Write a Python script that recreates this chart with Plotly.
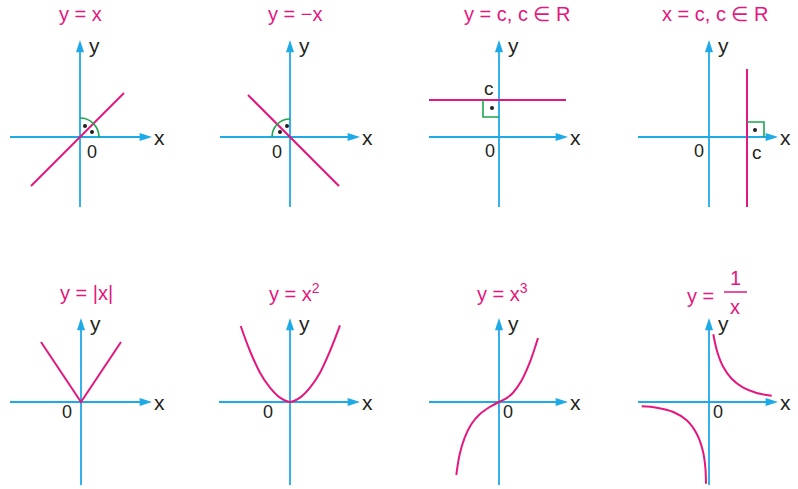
import plotly.graph_objects as go

# ---------------- data (math units; 1 unit = 10 px) ----------------
lin_x = [-4.9, 4.4]
lin_y = [-4.9, 4.4]

neg_x = [-4.2, 4.9]
neg_y = [4.2, -4.9]

const_c = 3.7
const_x = [-7.0, 6.7]

vert_c = 3.8
vert_y = [-7.0, 6.8]

abs_x = [-4.0, 0.0, 4.0]
abs_y = [6.0, 0.0, 6.0]

sq_x = [-4.93, -4.0, -3.0, -2.0, -1.0, 0.0, 1.0, 2.0, 3.0, 4.0, 5.0]
sq_y = [7.6, 5.1, 2.93, 1.43, 0.43, 0.0, 0.43, 1.43, 2.93, 5.1, 7.67]

cube_x = [-4.27, -3.93, -3.43, -2.77, -1.93, -0.93, 0.0, 0.73, 1.4, 2.23, 3.07, 3.9]
cube_y = [-7.3, -5.23, -3.57, -2.23, -1.23, -0.5, 0.0, 0.37, 0.93, 2.1, 3.93, 6.4]

inv_right_x = [0.43, 0.83, 1.43, 2.27, 3.43, 4.77, 6.27]
inv_right_y = [6.77, 5.0, 3.5, 2.33, 1.43, 0.9, 0.63]
inv_left_x = [-6.73, -5.23, -3.57, -2.23, -1.23, -0.63, -0.37, -0.3]
inv_left_y = [-0.43, -0.57, -1.0, -1.83, -3.17, -4.83, -6.5, -8.17]

titles = ["y = x", "y = \u2212x", "y = c, c \u2208 R", "x = c, c \u2208 R",
          "y = |x|", "y = x<sup>2</sup>", "y = x<sup>3</sup>", ""]

# ---------------- styling / layout ----------------
PINK = "#e5177e"
BLUE = "#1eaae7"
GREEN = "#1ea54e"
TXT = "#231f20"
FONT = "Liberation Sans, Arial, sans-serif"
W, H, U = 798, 489, 10.0
TSIZE = 20

# per panel: origin pixel, column box, row box, axis extents, title pos, "0" pos
panels = [
    dict(o=(80, 137), cx=(0, 200), ry=(0, 245), xa=(-7.0, 7.2), ya=(-7.0, 9.7), t=(0.0, 12.3), z=(1.2, -1.5)),
    dict(o=(290, 137), cx=(200, 400), ry=(0, 245), xa=(-7.0, 7.0), ya=(-7.0, 9.7), t=(0.5, 12.3), z=(-1.3, -1.5)),
    dict(o=(499, 137), cx=(400, 600), ry=(0, 245), xa=(-7.0, 6.9), ya=(-7.0, 9.7), t=(1.8, 12.3), z=(-0.9, -1.4)),
    dict(o=(709, 137), cx=(600, 798), ry=(0, 245), xa=(-7.1, 6.9), ya=(-7.0, 9.7), t=(0.6, 12.3), z=(-1.0, -1.4)),
    dict(o=(81, 402), cx=(0, 200), ry=(245, 489), xa=(-7.1, 7.1), ya=(-8.3, 8.4), t=(0.5, 10.9), z=(-1.4, -1.0)),
    dict(o=(290, 402), cx=(200, 400), ry=(245, 489), xa=(-7.1, 7.0), ya=(-8.3, 8.4), t=(0.4, 11.0), z=(-2.2, -1.0)),
    dict(o=(499, 402), cx=(400, 600), ry=(245, 489), xa=(-7.0, 6.9), ya=(-8.3, 8.4), t=(0.3, 11.0), z=(0.9, -1.0)),
    dict(o=(709, 402), cx=(600, 798), ry=(245, 489), xa=(-7.1, 6.9), ya=(-8.3, 8.4), t=(0.0, 10.9), z=(0.9, -1.0)),
]

fig = go.Figure()
layout = dict(width=W, height=H, margin=dict(l=0, r=0, t=0, b=0),
              paper_bgcolor="white", plot_bgcolor="rgba(0,0,0,0)", showlegend=False)
annotations = []
shapes = []


def refs(i):
    return ("x" if i == 0 else f"x{i+1}"), ("y" if i == 0 else f"y{i+1}")


for i, p in enumerate(panels):
    ox, oy = p["o"]
    x0, x1 = p["cx"]
    y0, y1 = p["ry"]
    xr = [(x0 - ox) / U, (x1 - ox) / U]
    yr = [(oy - y1) / U, (oy - y0) / U]
    kx = "xaxis" if i == 0 else f"xaxis{i+1}"
    ky = "yaxis" if i == 0 else f"yaxis{i+1}"
    xn, yn = refs(i)
    layout[kx] = dict(domain=[x0 / W, x1 / W], range=xr, visible=False, fixedrange=True, anchor=yn)
    layout[ky] = dict(domain=[(H - y1) / H, (H - y0) / H], range=yr, visible=False, fixedrange=True, anchor=xn)
    # axis lines
    fig.add_trace(go.Scatter(x=[p["xa"][0], p["xa"][1] - 0.6], y=[0, 0], mode="lines",
                             line=dict(color=BLUE, width=1.8), xaxis=xn, yaxis=yn, hoverinfo="skip"))
    fig.add_trace(go.Scatter(x=[0, 0], y=[p["ya"][0], p["ya"][1] - 0.6], mode="lines",
                             line=dict(color=BLUE, width=1.8), xaxis=xn, yaxis=yn, hoverinfo="skip"))
    # arrowheads
    fig.add_trace(go.Scatter(x=[p["xa"][1], 0], y=[0, p["ya"][1]], mode="markers",
                             marker=dict(symbol="arrow", size=13, angle=[90, 0], color=BLUE,
                                         line=dict(width=0)),
                             xaxis=xn, yaxis=yn, hoverinfo="skip"))
    # axis labels
    annotations.append(dict(x=p["xa"][1] + 0.75, y=0, xref=xn, yref=yn, text="x", showarrow=False,
                            font=dict(family=FONT, size=21, color=TXT)))
    annotations.append(dict(x=1.4, y=p["ya"][1] - 0.5, xref=xn, yref=yn, text="y", showarrow=False,
                            font=dict(family=FONT, size=21, color=TXT)))
    annotations.append(dict(x=p["z"][0], y=p["z"][1], xref=xn, yref=yn, text="0", showarrow=False,
                            font=dict(family=FONT, size=18, color=TXT)))
    if titles[i]:
        annotations.append(dict(x=p["t"][0], y=p["t"][1], xref=xn, yref=yn, text=titles[i], showarrow=False,
                                font=dict(family=FONT, size=TSIZE, color=PINK)))

line = dict(color=PINK, width=2)

# panel 1: y = x
fig.add_trace(go.Scatter(x=lin_x, y=lin_y, mode="lines", line=line, xaxis="x", yaxis="y"))
shapes.append(dict(type="path", path="M 1.9,0 C 1.9,1.05 1.05,1.9 0,1.9", xref="x", yref="y",
                   line=dict(color=GREEN, width=1.6)))
fig.add_trace(go.Scatter(x=[0.5, 1.2], y=[1.1, 0.5], mode="markers",
                         marker=dict(color=TXT, size=4), xaxis="x", yaxis="y"))

# panel 2: y = -x
fig.add_trace(go.Scatter(x=neg_x, y=neg_y, mode="lines", line=line, xaxis="x2", yaxis="y2"))
shapes.append(dict(type="path", path="M 0,1.8 C -1.0,1.8 -1.8,1.0 -1.8,0", xref="x2", yref="y2",
                   line=dict(color=GREEN, width=1.6)))
fig.add_trace(go.Scatter(x=[-0.3, -1.0], y=[1.1, 0.5], mode="markers",
                         marker=dict(color=TXT, size=4), xaxis="x2", yaxis="y2"))

# panel 3: y = c
fig.add_trace(go.Scatter(x=const_x, y=[const_c] * len(const_x), mode="lines", line=line,
                         xaxis="x3", yaxis="y3"))
shapes.append(dict(type="path", path=f"M -1.6,{const_c} L -1.6,2.0 L 0,2.0", xref="x3", yref="y3",
                   line=dict(color=GREEN, width=1.6)))
fig.add_trace(go.Scatter(x=[-0.7], y=[2.9], mode="markers", marker=dict(color=TXT, size=4),
                         xaxis="x3", yaxis="y3"))
annotations.append(dict(x=-1.0, y=const_c + 1.2, xref="x3", yref="y3", text="c", showarrow=False,
                        font=dict(family=FONT, size=19, color=TXT)))

# panel 4: x = c
fig.add_trace(go.Scatter(x=[vert_c] * len(vert_y), y=vert_y, mode="lines", line=line,
                         xaxis="x4", yaxis="y4"))
shapes.append(dict(type="path", path=f"M {vert_c},1.5 L 5.5,1.5 L 5.5,0", xref="x4", yref="y4",
                   line=dict(color=GREEN, width=1.6)))
fig.add_trace(go.Scatter(x=[4.6], y=[0.7], mode="markers", marker=dict(color=TXT, size=4),
                         xaxis="x4", yaxis="y4"))
annotations.append(dict(x=vert_c + 1.0, y=-1.5, xref="x4", yref="y4", text="c", showarrow=False,
                        font=dict(family=FONT, size=19, color=TXT)))

# panel 5: |x|
fig.add_trace(go.Scatter(x=abs_x, y=abs_y, mode="lines", line=line, xaxis="x5", yaxis="y5"))
# panel 6: x^2
fig.add_trace(go.Scatter(x=sq_x, y=sq_y, mode="lines", line=dict(color=PINK, width=2, shape="spline"),
                         xaxis="x6", yaxis="y6"))
# panel 7: x^3
fig.add_trace(go.Scatter(x=cube_x, y=cube_y, mode="lines", line=dict(color=PINK, width=2, shape="spline"),
                         xaxis="x7", yaxis="y7"))
# panel 8: 1/x
fig.add_trace(go.Scatter(x=inv_right_x, y=inv_right_y, mode="lines",
                         line=dict(color=PINK, width=2, shape="spline"), xaxis="x8", yaxis="y8"))
fig.add_trace(go.Scatter(x=inv_left_x, y=inv_left_y, mode="lines",
                         line=dict(color=PINK, width=2, shape="spline"), xaxis="x8", yaxis="y8"))
tf = dict(family=FONT, size=TSIZE, color=PINK)
annotations.append(dict(x=-0.9, y=10.6, xref="x8", yref="y8", text="y =", showarrow=False, font=tf))
annotations.append(dict(x=2.6, y=12.4, xref="x8", yref="y8", text="1", showarrow=False, font=tf))
annotations.append(dict(x=2.6, y=9.5, xref="x8", yref="y8", text="x", showarrow=False, font=tf))
shapes.append(dict(type="line", x0=1.5, x1=3.8, y0=11.0, y1=11.0, xref="x8", yref="y8",
                   line=dict(color=PINK, width=1.5)))

layout["annotations"] = annotations
layout["shapes"] = shapes
fig.update_layout(**layout)
fig.write_html("out.html", config={"displayModeBar": False},
               post_script="document.body.style.margin='0';document.body.style.overflow='hidden';")
